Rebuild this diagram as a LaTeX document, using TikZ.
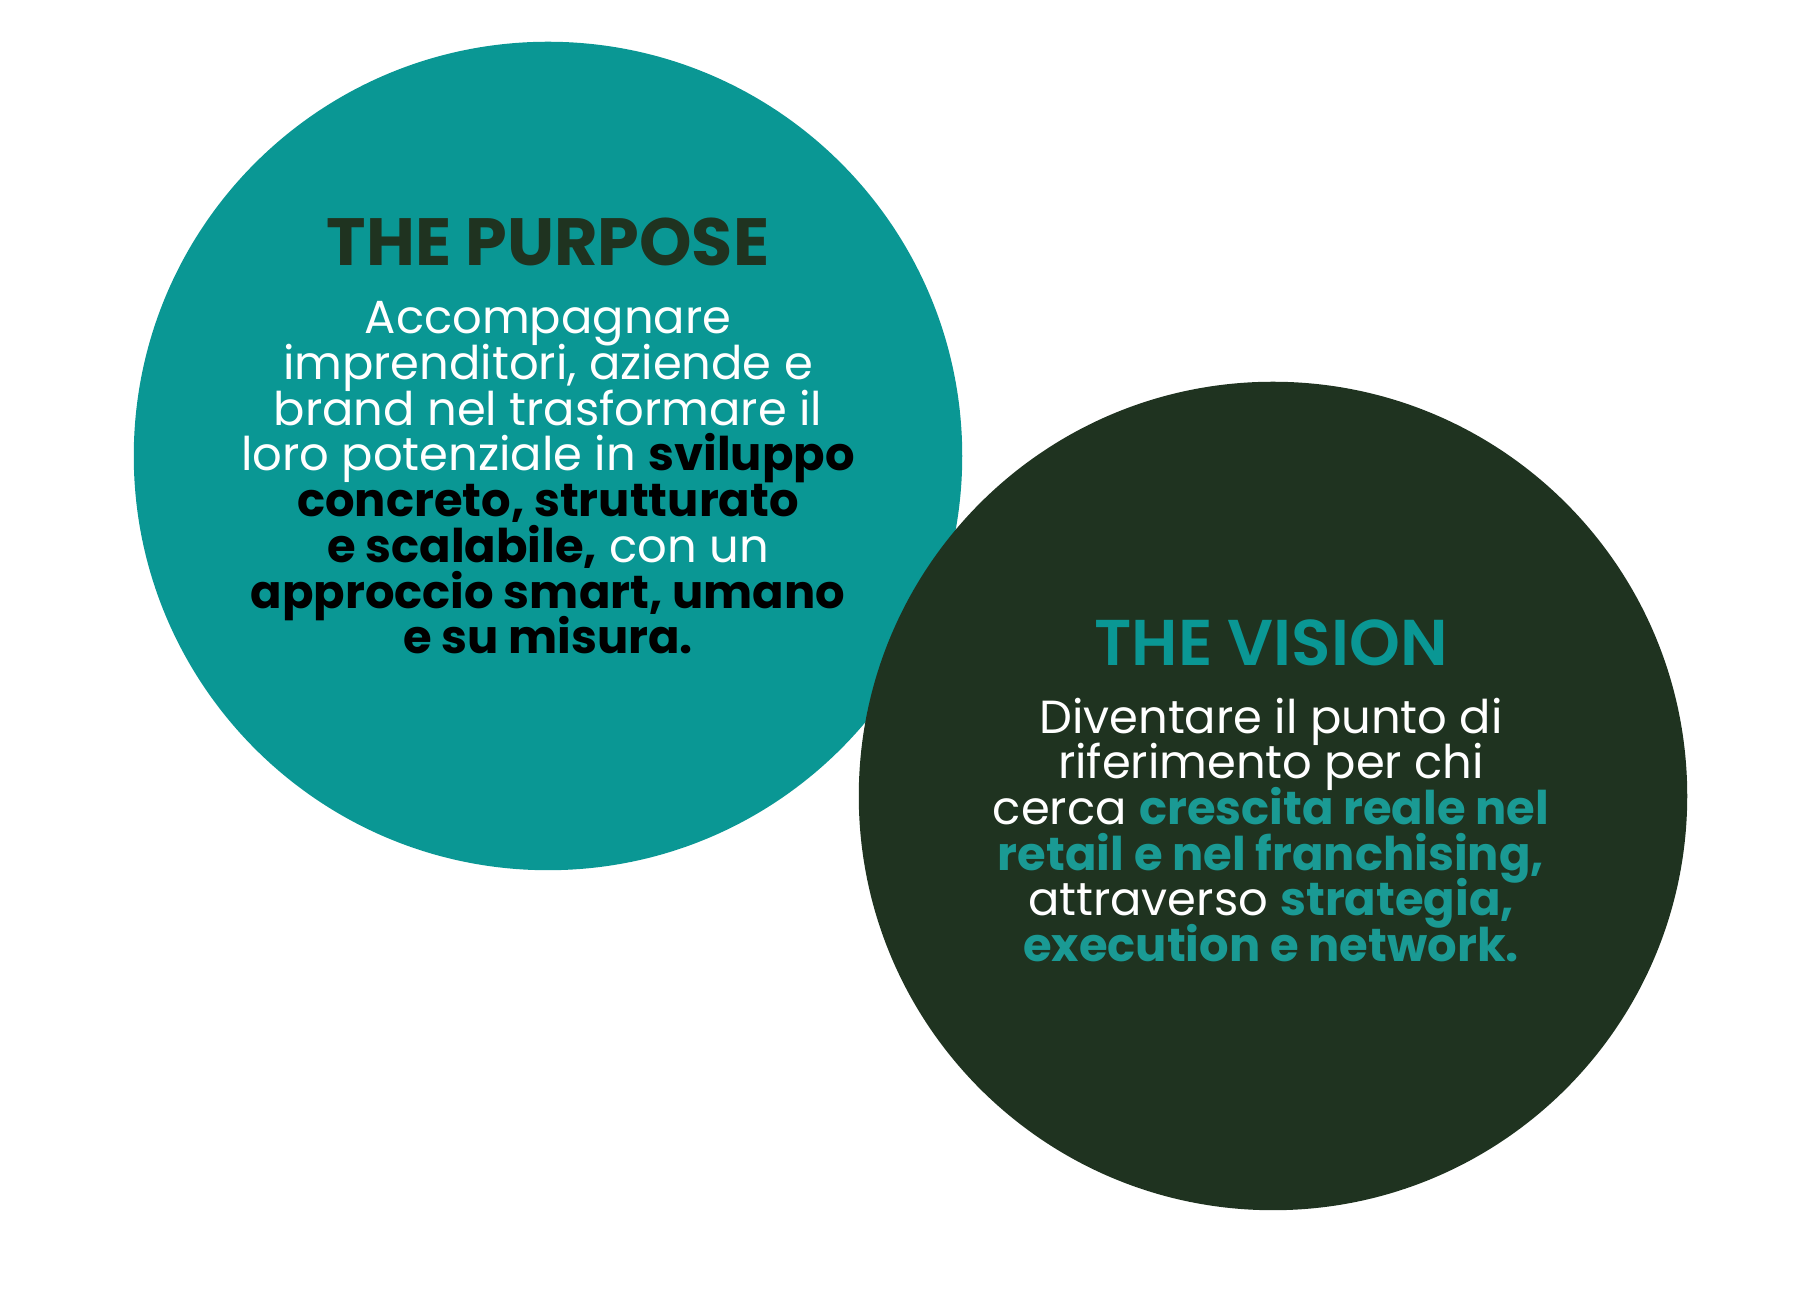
\documentclass[tikz,border=0pt]{standalone}
\usepackage{fontspec}
\setmainfont{Poppins}
\newfontfamily\semibold{Poppins SemiBold}
\usepackage{tikz}
\usepackage{xcolor}
\definecolor{pvteal}{RGB}{10, 151, 148}
\definecolor{pvgreen}{RGB}{31, 51, 32}
\definecolor{pvaccent}{RGB}{26, 154, 148}
\newcommand\tightlines{\fontsize{13.2}{13}\selectfont\lineskiplimit=-20pt\lineskip=0pt\relax}
\tikzset{
    bubble/.style={circle, inner sep=0pt, draw=none},
    purposebubble/.style={bubble, fill=pvteal},
    visionbubble/.style={bubble, fill=pvgreen},
    heading/.style={anchor=base, inner sep=0pt, font=\fontsize{19}{23}\selectfont\bfseries},
    bodytext/.style={anchor=north, inner sep=0pt, align=center, text=white, font=\tightlines}
}

\begin{document}
\begin{tikzpicture}[x=0.01cm, y=0.01cm]
                    \useasboundingbox (0,0) rectangle (1800,1292);
                    \node[purposebubble, minimum size=8.28cm] (purpose) at (548,836) {};
                    \node[visionbubble, minimum size=8.28cm] (vision) at (1273,496) {};
                    \node[heading, text=pvgreen] (purposetitle) at (548,1026) {THE PURPOSE};
                    \node[bodytext] (purposetext) at (548,991) {Accompagnare\\
                        imprenditori, aziende e\\
                        brand nel trasformare il\\
                        loro potenziale in \textbf{\color{black}sviluppo}\\
                        \textbf{\color{black}concreto, strutturato}\\
                        \textbf{\color{black}e scalabile,} con un\\
                        \textbf{\color{black}approccio smart, umano}\\
                        \textbf{\color{black}e su misura.}};
                    \node[heading, text=pvteal, font=\fontsize{18.4}{22}\semibold] (visiontitle) at (1271,626) {THE VISION};
                    \node[bodytext] (visiontext) at (1271,595) {Diventare il punto di\\
                        riferimento per chi\\
                        cerca \textbf{\color{pvaccent}crescita reale nel}\\
                        \textbf{\color{pvaccent}retail e nel franchising,}\\
                        attraverso \textbf{\color{pvaccent}strategia,}\\
                        \textbf{\color{pvaccent}execution e network.}};
                \end{tikzpicture}
\end{document}
